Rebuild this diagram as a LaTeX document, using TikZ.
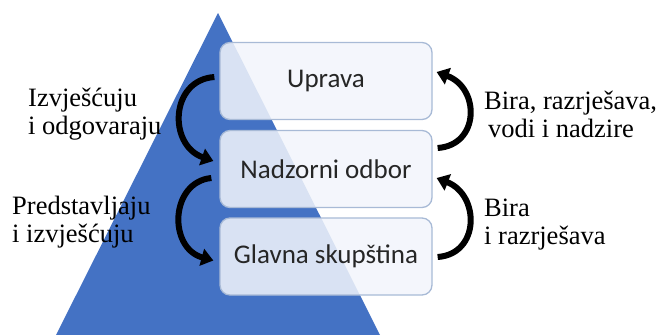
\documentclass[tikz,border=0pt]{standalone}
\usepackage{fontspec}
\setmainfont{Liberation Serif}
\newfontfamily\boxfont{Carlito}
\usetikzlibrary{arrows.meta}
\definecolor{pyr}{HTML}{4472C4}
\definecolor{boxfill}{HTML}{F2F5FB}
\definecolor{boxline}{HTML}{A8BAD6}
\tikzset{
  lvl/.style={draw=boxline, line width=1.3pt, fill=boxfill, fill opacity=0.86, text opacity=1,
    rounded corners=10pt, minimum width=212pt, minimum height=77pt, inner sep=0pt,
    font=\boxfont\fontsize{27}{30}\selectfont, text=black!85},
  lab/.style={font=\fontsize{26.5}{28}\selectfont, align=left, inner sep=0pt, anchor=west, text=black},
  carrow/.style={line width=6pt, -{Triangle[length=12pt,width=17pt]}, black}
}
\begin{document}
\begin{tikzpicture}[x=1pt,y=-1pt]
\useasboundingbox (0,0) rectangle (657,335);
\fill[pyr] (218,13) -- (380,335) -- (56,335) -- cycle;
\node[lvl] (up) at (326,81) {Uprava};
\node[lvl] (no) at (326,169) {Nadzorni odbor};
\node[lvl] (gs) at (326,256.5) {Glavna skupština};
% side labels
\node[lab] (l1) at (28,114) {Izvješćuju\\i odgovaraju};
\node[lab] (l2) at (12,222) {Predstavljaju\\i izvješćuju};
\node[lab] (r1) at (484,114) {Bira, razrješava,\\\hspace{4pt}vodi i nadzire};
\node[lab] (r2) at (484,225) {Bira\\i razrješava};
% arrow endpoints
\coordinate (a1s) at ([xshift=-5pt,yshift=4pt]up.west);
\coordinate (a1e) at ([xshift=-6pt,yshift=8pt]no.west);
\coordinate (a2s) at ([xshift=-8pt,yshift=-9pt]no.west);
\coordinate (a2e) at ([xshift=-6pt,yshift=-4pt]gs.west);
\coordinate (b1s) at ([xshift=5pt,yshift=21pt]no.east);
\coordinate (b1e) at ([xshift=4pt,yshift=9pt]up.east);
\coordinate (b2s) at ([xshift=5pt,yshift=-0.5pt]gs.east);
\coordinate (b2e) at ([xshift=4pt,yshift=-9pt]no.east);
\draw[carrow] (a1s) .. controls (170,80) and (168,145) .. (a1e);
\draw[carrow] (a2s) .. controls (170,182) and (168,248) .. (a2e);
\draw[carrow] (b1s) .. controls (480,145) and (480,88) .. (b1e);
\draw[carrow] (b2s) .. controls (480,254) and (480,195) .. (b2e);
\end{tikzpicture}
\end{document}
